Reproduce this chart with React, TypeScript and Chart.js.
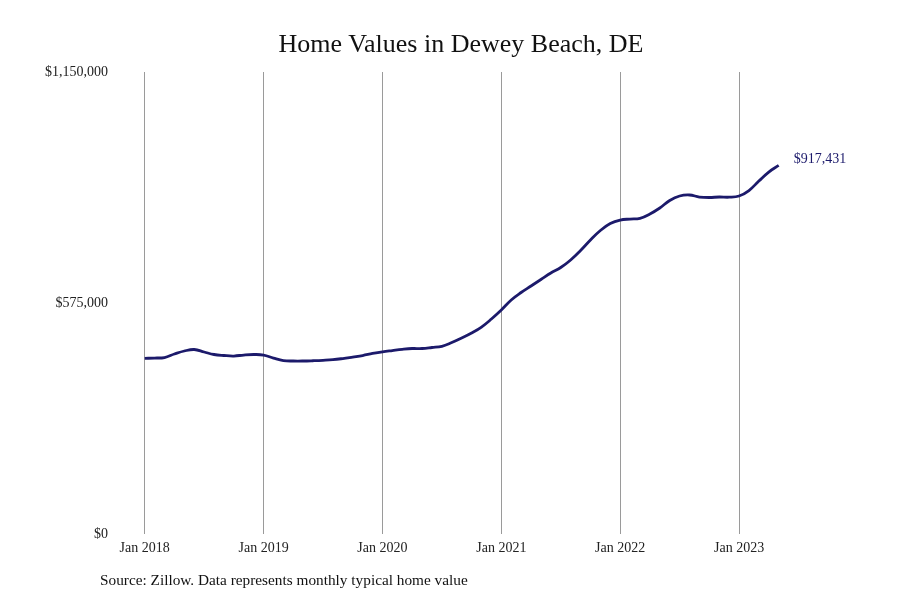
import { useEffect, useRef } from 'react';
import { Chart, registerables } from 'chart.js';

Chart.register(...registerables);

// monthly typical home value, Jan 2018 .. May 2023
const START_YEAR = 2018;
const homeValues = [
  437300, 438000, 439300, 448000, 455500, 459200, 453000, 446800, 444300, 443000, 445500, 446800,
  445500, 438000, 431800, 430600, 430600, 431300, 432300, 433800, 436800, 440500, 444300, 449300,
  453500, 456700, 459700, 461700, 461700, 464200, 467200, 476600, 487800, 500300, 515200, 535100,
  557500, 582400, 601100, 617300, 633500, 649600, 663300, 682000, 705600, 731800, 755400, 772800,
  781500, 784000, 785800, 796500, 811400, 830100, 841300, 843800, 838800, 837600, 838800, 838300,
  841300, 855000, 878600, 901000, 917431,
];
const yTicks = [0, 575000, 1150000];
const xTickMonths = [0, 12, 24, 36, 48, 60];

const LINE = '#1c1a6b';
const FONT = '"Liberation Serif", "DejaVu Serif", serif';

const endLabel = {
  id: 'endLabel',
  afterDatasetsDraw(chart: Chart) {
    const meta = chart.getDatasetMeta(0);
    const pt = meta.data[meta.data.length - 1];
    if (!pt) return;
    const ctx = chart.ctx;
    const v = homeValues[homeValues.length - 1];
    ctx.save();
    ctx.font = `14px ${FONT}`;
    ctx.fillStyle = LINE;
    ctx.textBaseline = 'middle';
    ctx.fillText('$' + v.toLocaleString('en-US'), pt.x + 15, pt.y - 6);
    ctx.restore();
  },
};

export default function App() {
  const canvasRef = useRef<HTMLCanvasElement>(null);

  useEffect(() => {
    document.body.style.margin = '0';
    if (!canvasRef.current) return;
    const chart = new Chart(canvasRef.current, {
      type: 'line',
      data: {
        datasets: [{
          data: homeValues.map((v, i) => ({ x: i, y: v })),
          borderColor: LINE,
          borderWidth: 2.8,
          pointRadius: 0,
          tension: 0.4,
          fill: false,
        }],
      },
      options: {
        responsive: true,
        maintainAspectRatio: false,
        animation: false,
        layout: { padding: { top: 72, left: 22, right: 50, bottom: 42 } },
        plugins: {
          legend: { display: false },
          tooltip: { enabled: false },
        },
        scales: {
          x: {
            type: 'linear',
            min: -3.3,
            max: 71.2,
            afterBuildTicks: (axis: any) => {
              axis.ticks = xTickMonths.map(v => ({ value: v }));
            },
            afterFit: (axis: any) => { axis.height = 24; },
            border: { display: false },
            grid: { color: '#9a9a9a', lineWidth: 1, drawTicks: false },
            ticks: {
              color: '#222',
              padding: 6,
              maxRotation: 0,
              font: { family: FONT, size: 14 },
              callback: (v: any) => 'Jan ' + (START_YEAR + Math.round(Number(v) / 12)),
            },
          },
          y: {
            min: 0,
            max: 1150000,
            afterBuildTicks: (axis: any) => {
              axis.ticks = yTicks.map(v => ({ value: v }));
            },
            afterFit: (axis: any) => { axis.width = 90; },
            border: { display: false },
            grid: { display: false, drawTicks: false },
            ticks: {
              color: '#222',
              padding: 4,
              font: { family: FONT, size: 14 },
              callback: (v: any) => '$' + Number(v).toLocaleString('en-US'),
            },
          },
        },
      },
      plugins: [endLabel],
    });
    return () => chart.destroy();
  }, []);

  return (
    <div style={{ position: 'relative', width: 900, height: 600, background: '#fff', fontFamily: FONT }}>
      <canvas ref={canvasRef} />
      <div style={{
        position: 'absolute', top: 27, left: 0, width: 922, textAlign: 'center',
        fontSize: 26, color: '#111', lineHeight: '34px',
      }}>
        Home Values in Dewey Beach, DE
      </div>
      <div style={{
        position: 'absolute', top: 570, left: 100, fontSize: 15.3, color: '#111', lineHeight: '20px',
      }}>
        Source: Zillow. Data represents monthly typical home value
      </div>
    </div>
  );
}
